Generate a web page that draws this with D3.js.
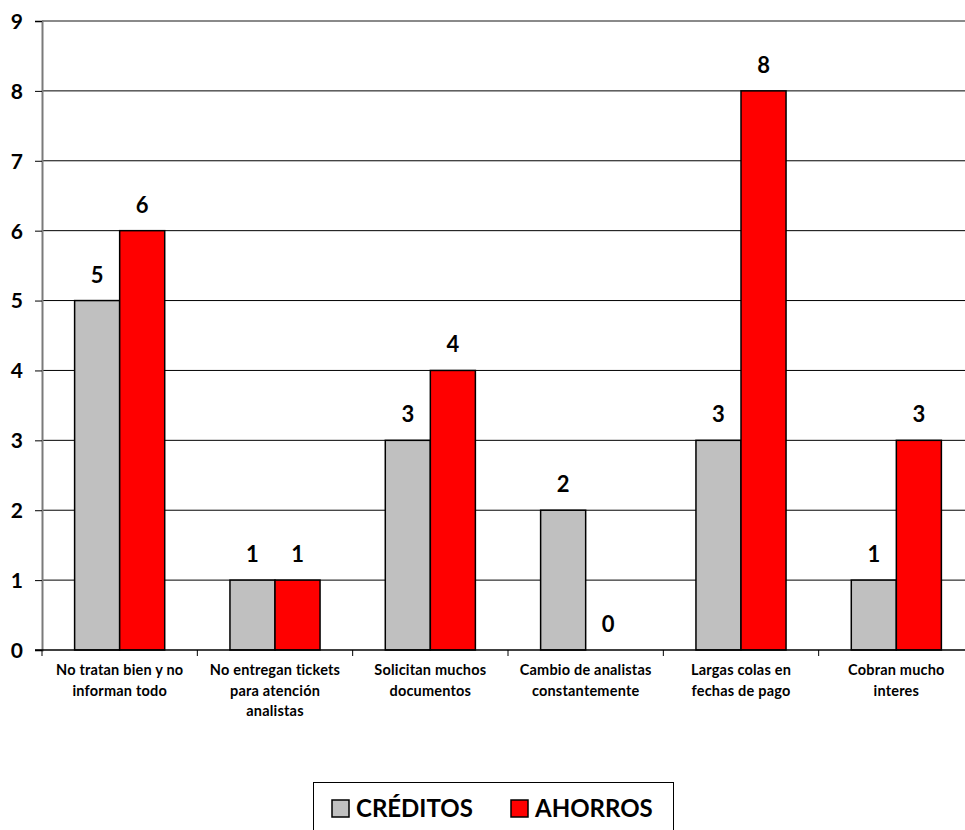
<!DOCTYPE html>
<html>
<head>
<meta charset="utf-8">
<script src="https://cdn.jsdelivr.net/npm/d3@7"></script>
<style>
  html, body { margin: 0; padding: 0; background: #ffffff; }
  svg { display: block; }
  text { font-family: "Century Gothic", "URW Gothic", Lato, "DejaVu Sans", sans-serif; font-weight: bold; fill: #000; }
</style>
</head>
<body>
<svg id="chart" width="965" height="830"></svg>
<script>
// Complaints reported per area
const categories = [
  ["No tratan bien y no", "informan todo"],
  ["No entregan tickets", "para atención", "analistas"],
  ["Solicitan muchos", "documentos"],
  ["Cambio de analistas", "constantemente"],
  ["Largas colas en", "fechas de pago"],
  ["Cobran mucho", "interes"]
];
const seriesNames = ["CRÉDITOS", "AHORROS"];
const creditos = [5, 1, 3, 2, 3, 1];
const ahorros = [6, 1, 4, 0, 8, 3];
const yTicks = [0, 1, 2, 3, 4, 5, 6, 7, 8, 9];
const colors = ["#c0c0c0", "#ff0000"];

const svg = d3.select("#chart");
const plotLeft = 42, plotRight = 974, plotTop = 21, plotBottom = 650;

const x0 = d3.scaleBand()
  .domain(d3.range(categories.length))
  .range([plotLeft, plotRight])
  .paddingInner(0.42)
  .paddingOuter(0.21);
const x1 = d3.scaleBand()
  .domain(seriesNames)
  .range([0, x0.bandwidth()]);
const y = d3.scaleLinear().domain([0, 9]).range([plotBottom, plotTop]);

// Horizontal gridlines
svg.append("g")
  .selectAll("line")
  .data(yTicks.filter(d => d > 0 && d < 9))
  .join("line")
  .attr("x1", plotLeft).attr("x2", plotRight)
  .attr("y1", d => y(d)).attr("y2", d => y(d))
  .attr("stroke", "#000").attr("stroke-width", 1);

// Top border of the plot
svg.append("line")
  .attr("x1", plotLeft).attr("x2", plotRight)
  .attr("y1", y(9)).attr("y2", y(9))
  .attr("stroke", "#8a8a8a").attr("stroke-width", 2);

// Y axis
const yAxis = d3.axisLeft(y).tickValues(yTicks).tickSize(7).tickPadding(12);
const gy = svg.append("g").attr("transform", `translate(${plotLeft},0)`).call(yAxis);
gy.select(".domain").attr("stroke", "#7a7a7a").attr("stroke-width", 2);
gy.selectAll(".tick line").attr("stroke", "#000");
gy.selectAll(".tick text")
  .style("font-size", "21px")
  .attr("dy", "0.35em");

// Bars
const rows = categories.map((c, i) => ({ i, values: [creditos[i], ahorros[i]] }));
const groups = svg.append("g")
  .selectAll("g")
  .data(rows)
  .join("g")
  .attr("transform", d => `translate(${x0(d.i)},0)`);

groups.selectAll("rect")
  .data(d => d.values.map((v, k) => ({ name: seriesNames[k], v, k })))
  .join("rect")
  .attr("x", d => x1(d.name))
  .attr("width", x1.bandwidth())
  .attr("y", d => y(d.v))
  .attr("height", d => y(0) - y(d.v))
  .attr("fill", d => colors[d.k])
  .attr("stroke", d => d.v > 0 ? "#000" : "none")
  .attr("stroke-width", 1.5);

// Value labels
groups.selectAll("text.val")
  .data(d => d.values.map((v, k) => ({ name: seriesNames[k], v, k })))
  .join("text")
  .attr("class", "val")
  .attr("x", d => x1(d.name) + x1.bandwidth() / 2)
  .attr("y", d => y(d.v) - 18)
  .attr("text-anchor", "middle")
  .style("font-size", "22px")
  .text(d => d.v);

// X axis baseline and boundary ticks
svg.append("line")
  .attr("x1", plotLeft - 7).attr("x2", plotRight)
  .attr("y1", plotBottom).attr("y2", plotBottom)
  .attr("stroke", "#000").attr("stroke-width", 1.5);
const step = x0.step();
svg.append("g")
  .selectAll("line")
  .data(d3.range(0, categories.length + 1))
  .join("line")
  .attr("x1", k => plotLeft + k * step).attr("x2", k => plotLeft + k * step)
  .attr("y1", plotBottom).attr("y2", plotBottom + 6)
  .attr("stroke", "#000").attr("stroke-width", 1);

// Category labels
svg.append("g")
  .selectAll("text")
  .data(categories.map((lines, i) => ({ lines, i })))
  .join("text")
  .attr("text-anchor", "middle")
  .style("font-size", "14.5px")
  .style("letter-spacing", "0.2px")
  .each(function(d) {
    const t = d3.select(this);
    d.lines.forEach((ln, j) => {
      t.append("tspan")
        .attr("x", x0(d.i) + x0.bandwidth() / 2)
        .attr("y", plotBottom + 25 + j * 20.5)
        .text(ln);
    });
  });

// Legend
const legend = svg.append("g");
legend.append("rect")
  .attr("x", 313.5).attr("y", 782.5)
  .attr("width", 360).attr("height", 60)
  .attr("fill", "#fff").attr("stroke", "#000").attr("stroke-width", 1);
const legendItems = [
  { name: seriesNames[0], color: colors[0], x: 332 },
  { name: seriesNames[1], color: colors[1], x: 511 }
];
legendItems.forEach(it => {
  legend.append("rect")
    .attr("x", it.x).attr("y", 800)
    .attr("width", 17).attr("height", 17)
    .attr("fill", it.color).attr("stroke", "#000").attr("stroke-width", 1.5);
  legend.append("text")
    .attr("x", it.x + 24).attr("y", 817)
    .style("font-size", "24px")
    .text(it.name);
});
</script>
</body>
</html>
